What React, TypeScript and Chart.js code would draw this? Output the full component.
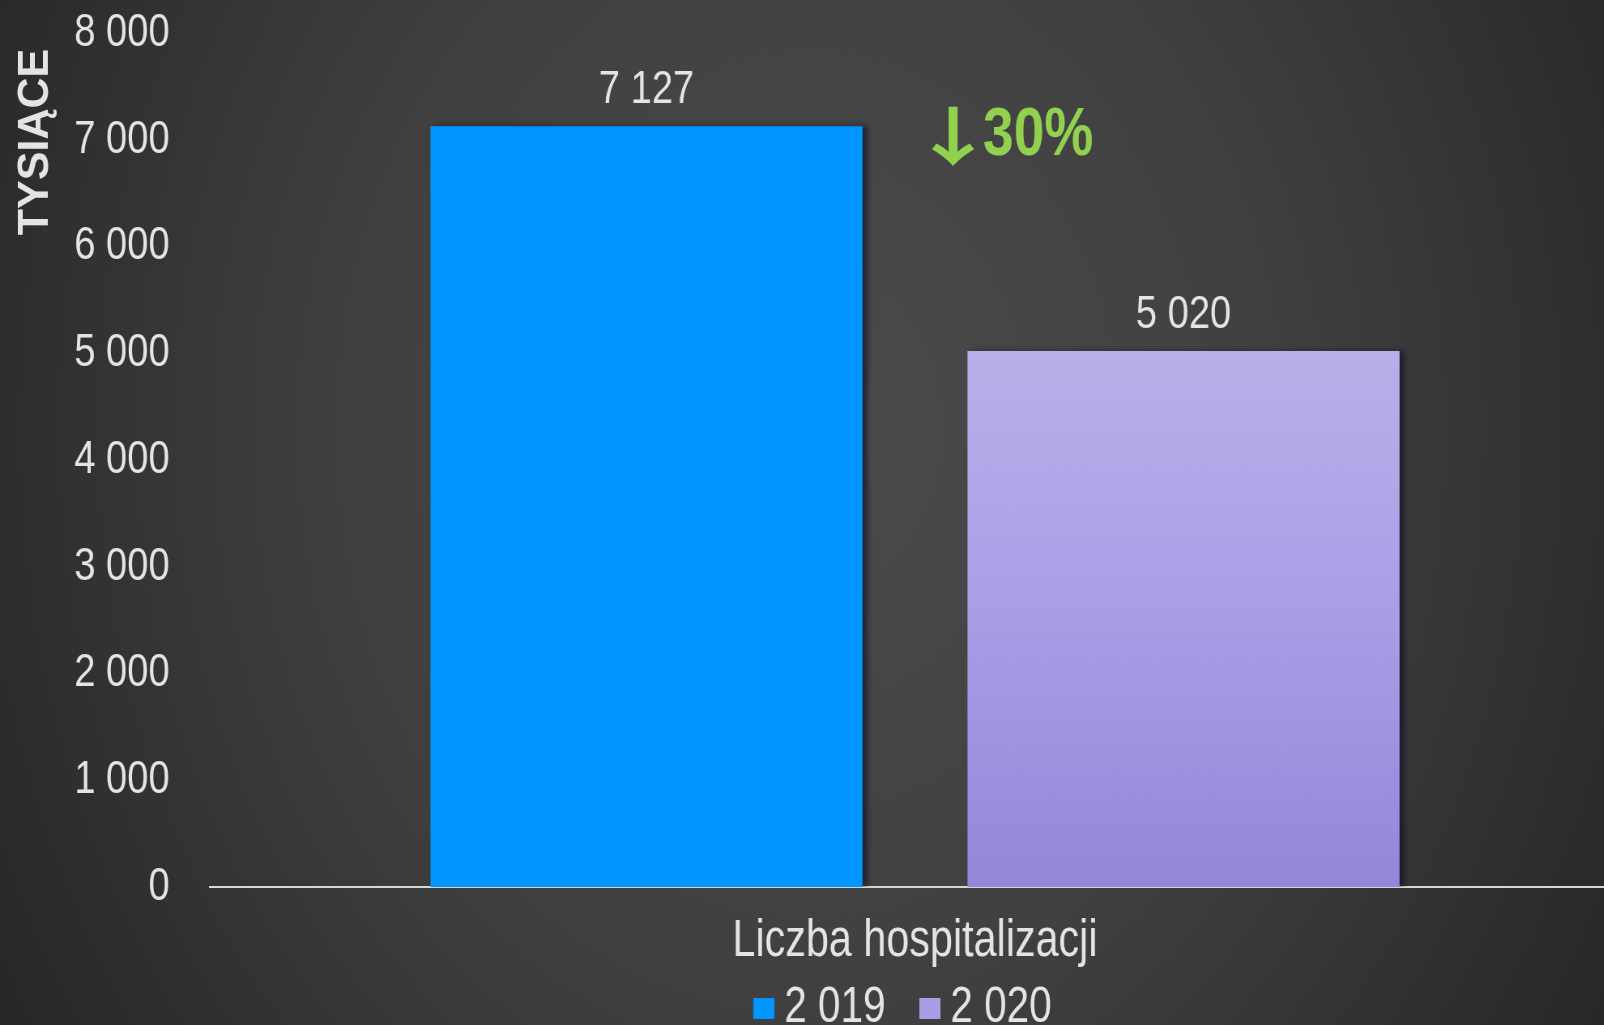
import React, { useEffect, useRef } from 'react';
import { Chart, registerables } from 'chart.js';

Chart.register(...registerables);

// ---- data ----
const categories = ['Liczba hospitalizacji'];
const seriesLabels = ['2 019', '2 020'];
const values2019 = [7127];
const values2020 = [5020];
const yMin = 0;
const yMax = 8000;
const yStep = 1000;
const yAxisTitle = 'TYSIĄCE';
const changeArrow = '↓';
const changeValue = '30%';

// The reference uses a condensed face; we draw with Arial metrics and condense the canvas horizontally.
const SX = 0.81;
const CANVAS_W = 2000;
const CANVAS_H = 1086;
const cx = (fullX: number) => fullX / SX; // full-page x -> canvas x

const FONT = '"Liberation Sans", Arial, sans-serif';
const TEXT = '#e4e4e4';
const BLUE = '#0096ff';
const PURPLE = '#aa9de6';

const LEGEND_FONT = 50;
const LEGEND_PAD = 54;
const LEGEND_PSW = 1;

const fmt = (v: number) => String(Math.round(v)).replace(/\B(?=(\d{3})+(?!\d))/g, ' ');

const makeSwatch = (color: string) => {
  const c = document.createElement('canvas');
  c.width = Math.round(cx(21));
  c.height = 21;
  const g = c.getContext('2d');
  if (g) {
    g.fillStyle = color;
    g.fillRect(0, 0, c.width, c.height);
  }
  return c;
};

const backgroundPlugin = {
  id: 'bgPlugin',
  beforeDraw(chart: any) {
    const { ctx, width, height } = chart;
    ctx.save();
    const g = ctx.createRadialGradient(cx(810), 430, 0, cx(810), 430, 1150);
    g.addColorStop(0, '#4b4b4b');
    g.addColorStop(0.5, '#404040');
    g.addColorStop(1, '#272727');
    ctx.fillStyle = g;
    ctx.fillRect(0, 0, width, height);
    ctx.restore();
  },
};

const shadowPlugin = {
  id: 'shadowPlugin',
  beforeDatasetsDraw(chart: any) {
    const ctx = chart.ctx;
    ctx.save();
    ctx.shadowColor = 'rgba(10,10,35,0.55)';
    ctx.shadowBlur = 6;
    ctx.shadowOffsetX = 6;
    ctx.shadowOffsetY = 0;
  },
  afterDatasetsDraw(chart: any) {
    chart.ctx.restore();
  },
};

const labelsPlugin = {
  id: 'labelsPlugin',
  afterLayout(chart: any) {
    const lg = chart.legend;
    if (lg && lg.lineWidths) {
      const x1 = (lg.left + LEGEND_PAD + lg.right - lg.lineWidths[0]) / 2;
      const wantX1 = cx(753) + (Math.round(cx(21)) - LEGEND_PSW) / 2;
      const dx = wantX1 - x1;
      lg.left += dx;
      lg.right += dx;
      const wantTop = 1008 - LEGEND_PAD - LEGEND_FONT / 2;
      const dy = wantTop - lg.top;
      lg.top += dy;
      lg.bottom += dy;
    }
  },
  afterDraw(chart: any) {
    const { ctx } = chart;
    ctx.save();
    // value labels above bars
    ctx.font = `47px ${FONT}`;
    ctx.fillStyle = TEXT;
    ctx.textAlign = 'center';
    ctx.textBaseline = 'middle';
    chart.data.datasets.forEach((ds: any, i: number) => {
      const meta = chart.getDatasetMeta(i);
      meta.data.forEach((el: any, j: number) => {
        ctx.fillText(fmt(ds.data[j]), el.x, el.y - 36);
      });
    });
    // y axis title (not condensed)
    ctx.save();
    ctx.translate(cx(36), 142);
    ctx.scale(1 / SX, 1);
    ctx.rotate(-Math.PI / 2);
    ctx.font = `bold 43px ${FONT}`;
    ctx.fillStyle = TEXT;
    ctx.textAlign = 'center';
    ctx.textBaseline = 'middle';
    ctx.fillText(yAxisTitle, 0, 0);
    ctx.restore();
    // change annotation
    const green = '#92d050';
    ctx.save();
    ctx.translate(cx(953), 136);
    ctx.scale(1.7, 1);
    ctx.fillStyle = green;
    ctx.font = `bold 64px "Noto Sans CJK SC", "DejaVu Sans", ${FONT}`;
    ctx.textAlign = 'center';
    ctx.textBaseline = 'middle';
    ctx.fillText(changeArrow, 0, 0);
    ctx.restore();
    ctx.fillStyle = green;
    ctx.font = `bold 68px ${FONT}`;
    ctx.textAlign = 'left';
    ctx.textBaseline = 'alphabetic';
    ctx.fillText(changeValue, cx(983), 155);
    ctx.restore();
  },
};

export default function App() {
  const ref = useRef<HTMLCanvasElement | null>(null);
  useEffect(() => {
    document.body.style.margin = '0';
    const canvas = ref.current;
    if (!canvas) return;
    const swatches = [makeSwatch(BLUE), makeSwatch(PURPLE)];
    const chart = new Chart(canvas, {
      type: 'bar',
      data: {
        labels: categories,
        datasets: [
          {
            label: seriesLabels[0],
            data: values2019,
            backgroundColor: BLUE,
            borderWidth: 0,
          },
          {
            label: seriesLabels[1],
            data: values2020,
            backgroundColor: (c: any) => {
              const ch = c.chart;
              const ys = ch.scales && ch.scales.y;
              if (!ch.chartArea || !ys) return PURPLE;
              const top = ys.getPixelForValue(values2020[0]);
              const bottom = ys.getPixelForValue(0);
              const g = ch.ctx.createLinearGradient(0, top, 0, bottom);
              g.addColorStop(0, '#b9b0ea');
              g.addColorStop(0.5, '#a99de6');
              g.addColorStop(1, '#9586da');
              return g;
            },
            borderWidth: 0,
          },
        ],
      },
      options: {
        responsive: false,
        animation: false,
        devicePixelRatio: 1,
        layout: { padding: { top: 33, left: 0, right: 0, bottom: 0 } },
        datasets: {
          bar: { barPercentage: 0.8045, categoryPercentage: 0.7617 },
        },
        plugins: {
          legend: {
            position: 'bottom',
            labels: {
              color: TEXT,
              font: { family: FONT, size: LEGEND_FONT },
              usePointStyle: true,
              pointStyleWidth: LEGEND_PSW,
              boxHeight: 21,
              padding: LEGEND_PAD,
              generateLabels: (chart: any) =>
                chart.data.datasets.map((ds: any, i: number) => ({
                  text: ds.label,
                  fillStyle: i === 0 ? BLUE : PURPLE,
                  strokeStyle: 'transparent',
                  lineWidth: 0,
                  pointStyle: swatches[i],
                  fontColor: TEXT,
                  hidden: false,
                  datasetIndex: i,
                })),
            },
          },
          tooltip: { enabled: false },
          title: { display: false },
        },
        scales: {
          x: {
            grid: { display: false },
            border: { display: true, color: '#d6d6d6', width: 2 },
            ticks: {
              color: TEXT,
              font: { family: FONT, size: 51 },
              padding: 16,
            },
            afterFit: (s: any) => {
              s.height = 85;
              s.paddingLeft = 0;
              s.paddingRight = 0;
            },
          },
          y: {
            min: yMin,
            max: yMax,
            grid: { display: false },
            border: { display: false },
            ticks: {
              stepSize: yStep,
              color: TEXT,
              font: { family: FONT, size: 47 },
              padding: cx(34),
              callback: (v: any) => fmt(Number(v)),
            },
            afterFit: (s: any) => {
              s.width = cx(210);
              s.paddingTop = 0;
              s.paddingBottom = 0;
            },
          },
        },
      },
      plugins: [backgroundPlugin, shadowPlugin, labelsPlugin],
    });
    return () => chart.destroy();
  }, []);

  return (
    <div
      style={{
        position: 'fixed',
        left: 0,
        top: 0,
        width: 1604,
        height: 1025,
        overflow: 'hidden',
        background: '#333',
      }}
    >
      <div style={{ transform: `scaleX(${SX})`, transformOrigin: '0 0', width: CANVAS_W, height: CANVAS_H }}>
        <canvas ref={ref} width={CANVAS_W} height={CANVAS_H} style={{ display: 'block', width: CANVAS_W, height: CANVAS_H }} />
      </div>
    </div>
  );
}
